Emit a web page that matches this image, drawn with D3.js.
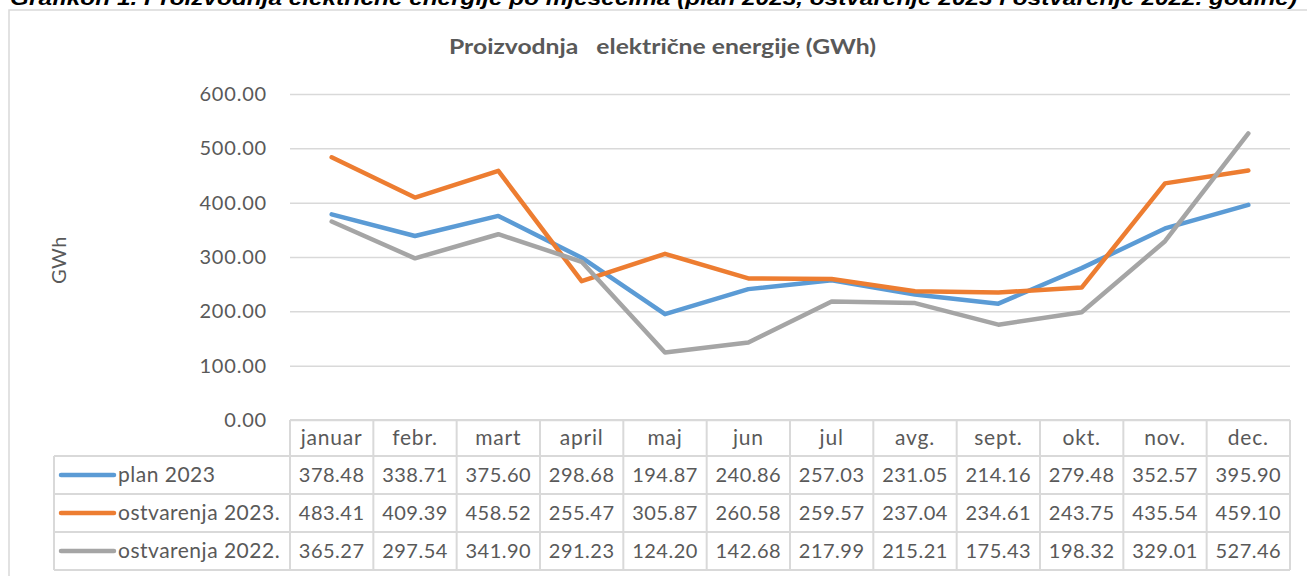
<!DOCTYPE html>
<html><head><meta charset="utf-8">
<script src="https://cdn.jsdelivr.net/npm/d3@7"></script>
<style>
body{margin:0;background:#fff;}
svg{display:block;}
text{font-family:Lato, "Noto Sans", sans-serif;}
</style>
</head><body>
<svg id="c" width="1307" height="576"></svg>
<script>
const caption = "Grafikon 1. Proizvodnja električne energije po mjesecima (plan 2023, ostvarenje 2023 i ostvarenje 2022. godine)";
const chartTitle = "Proizvodnja   električne energije (GWh)";
const yTitle = "GWh";
const months = ["januar","febr.","mart","april","maj","jun","jul","avg.","sept.","okt.","nov.","dec."];
const seriesNames = ["plan 2023","ostvarenja 2023.","ostvarenja 2022."];
const plan2023 = [378.48,338.71,375.60,298.68,194.87,240.86,257.03,231.05,214.16,279.48,352.57,395.90];
const ostvarenja2023 = [483.41,409.39,458.52,255.47,305.87,260.58,259.57,237.04,234.61,243.75,435.54,459.10];
const ostvarenja2022 = [365.27,297.54,341.90,291.23,124.20,142.68,217.99,215.21,175.43,198.32,329.01,527.46];
const yTicks = [0,100,200,300,400,500,600];
const colors = ["#5b9bd5","#ed7d31","#a5a5a5"];

const series = [plan2023, ostvarenja2023, ostvarenja2022].map((v,i)=>({name:seriesNames[i], values:v, color:colors[i]}));

const svg = d3.select("#c");
const gridColor = "#d9d9d9";
const textColor = "#595959";
const fmt = d3.format(".2f");

const x = d3.scaleBand().domain(months).range([290,1290]);
const y = d3.scaleLinear().domain([0,600]).range([420,94]);

// caption (cut off at the top, as in the reference)
svg.append("text").attr("x",10).attr("y",5)
  .attr("textLength",1287).attr("lengthAdjust","spacingAndGlyphs")
  .style("font-family","'Liberation Sans', Arial, sans-serif")
  .style("font-weight","bold").style("font-style","italic")
  .style("font-size","20px").attr("fill","#000").text(caption);

// outer border
svg.append("path").attr("d","M9,576 L9,10 L1307,10").attr("fill","none")
  .attr("stroke",gridColor).attr("stroke-width",1.5);

// title
svg.append("text").attr("x",449).attr("y",54)
  .style("white-space","pre").attr("xml:space","preserve")
  .attr("textLength",427).attr("lengthAdjust","spacingAndGlyphs")
  .style("font-weight","bold").style("font-size","21px").attr("fill",textColor).text(chartTitle);

// y axis title
svg.append("text").attr("transform","translate(66,260) rotate(-90)").attr("text-anchor","middle")
  .style("font-size","20px").style("letter-spacing","0.5px").attr("fill",textColor).text(yTitle);

// gridlines and y axis
const yAxis = d3.axisLeft(y).tickValues(yTicks).tickSize(-1000).tickFormat(fmt).tickPadding(23);
const gy = svg.append("g").attr("transform","translate(290,0)").call(yAxis);
gy.select(".domain").remove();
gy.selectAll(".tick line").attr("stroke",gridColor).attr("stroke-width",1.5);
gy.selectAll(".tick text").attr("fill",textColor).style("font-size","20px")
  .style("letter-spacing","0.8px").style("font-family","Lato, sans-serif");

// lines
const line = d3.line().x((d,i)=>x(months[i])+x.bandwidth()/2).y(d=>y(d));
svg.append("g").selectAll("path").data(series).join("path")
  .attr("d",d=>line(d.values)).attr("fill","none").attr("stroke",d=>d.color)
  .attr("stroke-width",4.5).attr("stroke-linejoin","round").attr("stroke-linecap","round");

// data table
const rowTop = 420, headerH = 36, rowH = 38, legendLeft = 54;
const tbl = svg.append("g");
const rowsY = [rowTop + headerH, rowTop + headerH + rowH, rowTop + headerH + 2*rowH, rowTop + headerH + 3*rowH];
tbl.append("line").attr("x1",290).attr("x2",1290).attr("y1",rowTop).attr("y2",rowTop);
rowsY.forEach(yy=>tbl.append("line").attr("x1",legendLeft).attr("x2",1290).attr("y1",yy).attr("y2",yy));
const bottom = rowsY[3];
tbl.append("line").attr("x1",legendLeft).attr("x2",legendLeft).attr("y1",rowsY[0]).attr("y2",bottom);
months.forEach(m=>tbl.append("line").attr("x1",x(m)).attr("x2",x(m)).attr("y1",rowTop).attr("y2",bottom));
tbl.append("line").attr("x1",1290).attr("x2",1290).attr("y1",rowTop).attr("y2",bottom);
tbl.selectAll("line").attr("stroke",gridColor).attr("stroke-width",2);

// header texts
tbl.selectAll("text.h").data(months).join("text").attr("class","h")
  .attr("x",d=>x(d)+x.bandwidth()/2).attr("y",rowTop+headerH/2).attr("dy","0.35em")
  .attr("text-anchor","middle").style("font-size","21px").style("letter-spacing","0.8px")
  .attr("fill",textColor).text(d=>d);

series.forEach((s,i)=>{
  const cy = rowsY[i] + rowH/2;
  tbl.append("line").attr("x1",61).attr("x2",114).attr("y1",cy).attr("y2",cy)
    .attr("stroke",s.color).attr("stroke-width",4.5).attr("stroke-linecap","round");
  tbl.append("text").attr("x",118).attr("y",cy).attr("dy","0.35em")
    .style("font-size","21px").style("letter-spacing","0.5px").attr("fill",textColor).text(s.name);
  tbl.selectAll("text.v"+i).data(s.values).join("text").attr("class","v"+i)
    .attr("x",(d,j)=>x(months[j])+x.bandwidth()/2).attr("y",cy).attr("dy","0.35em")
    .attr("text-anchor","middle").style("font-size","20px").style("letter-spacing","0.5px")
    .attr("fill",textColor).text(d=>fmt(d));
});
</script>
</body></html>
